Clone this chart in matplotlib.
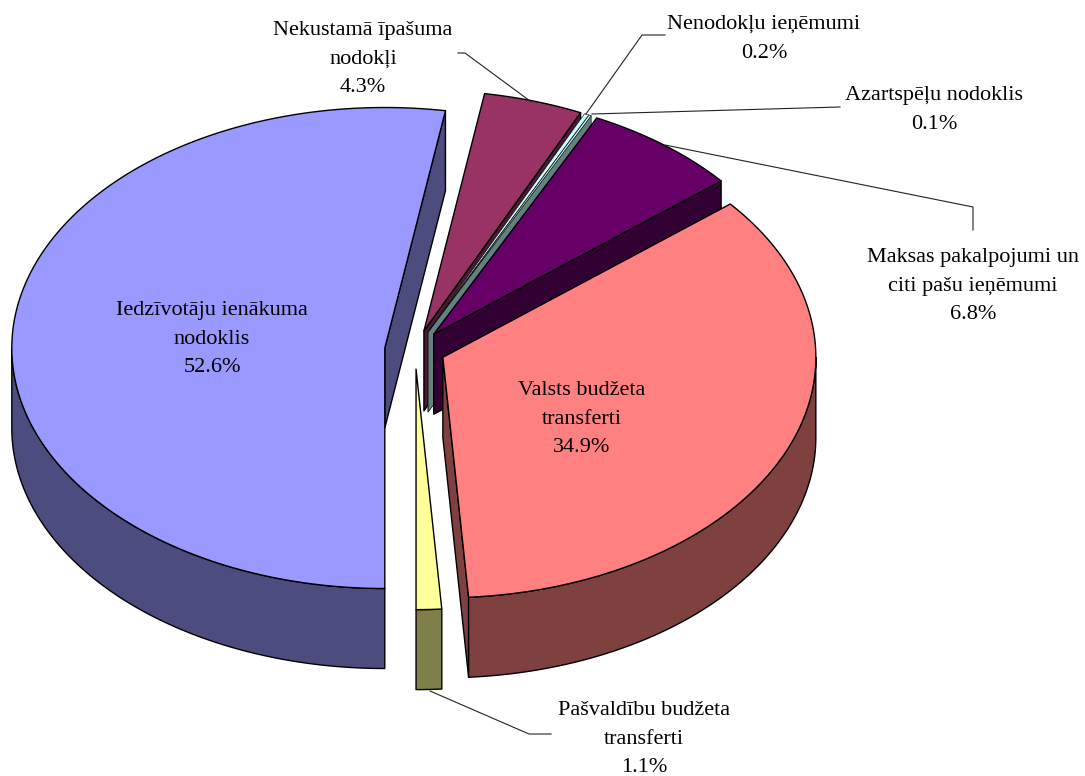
import numpy as np
import matplotlib
matplotlib.use("Agg")
import matplotlib.pyplot as plt

labels = ["Iedzīvotāju ienākuma\nnodoklis", "Nekustamā īpašuma\nnodokļi", "Nenodokļu ieņēmumi",
          "Azartspēļu nodoklis", "Maksas pakalpojumi un\nciti pašu ieņēmumi",
          "Valsts budžeta\ntransferti", "Pašvaldību budžeta\ntransferti"]
shares = [52.6, 4.3, 0.2, 0.1, 6.8, 34.9, 1.1]
colors = ["#9999FF", "#993366", "#CCFFFF", "#CCFFFF", "#660066", "#FF8080", "#FFFF99"]
side_colors = ["#4C4C7F", "#4C1933", "#667F7F", "#667F7F", "#330033", "#7F4040", "#7F7F4C"]

# label centres and leader lines, in pixels
label_pos = [(212, 339), (363, 59), (764, 39), (934, 110), (973, 286), (582, 419), (644, 739)]
leaders = [None, [(530, 101), (465, 53), (458, 53)], [(586, 114), (642, 35), (665, 35)],
           [(592, 114), (840, 107)], [(665, 145), (973, 207), (973, 230)], None,
           [(430, 691), (529, 734), (551, 734)]]

# pie geometry, in pixels
cx, cy = 415, 349.6
rx, ry = 373, 240.5
depth = 80
explode = 30.3
start = 180.0

fig = plt.figure(figsize=(10.85, 7.76), dpi=100)
ax = fig.add_axes([0, 0, 1, 1])
ax.set_xlim(0, 1085)
ax.set_ylim(776, 0)
ax.axis("off")


def arc(x0, y0, a1, a2):
    # angles are clockwise from north
    t = np.radians(np.linspace(a1, a2, max(int(abs(a2 - a1)) * 2, 2)))
    return x0 + rx * np.sin(t), y0 - ry * np.cos(t)


def poly(xs, ys, color, z, lw):
    ax.fill(xs, ys, facecolor=color, edgecolor="black", linewidth=lw, joinstyle="round", zorder=z)


ends = start + np.cumsum(shares) * 3.6
starts = ends - np.array(shares) * 3.6

# back slices first, the front ones paint over them
order = [1, 2, 3, 4, 0, 5, 6]
for z, i in enumerate(order):
    a1, a2 = starts[i], ends[i]
    mid = np.radians((a1 + a2) / 2)
    x0 = cx + explode * np.sin(mid)
    y0 = cy - explode * ry / rx * np.cos(mid)
    base = z * 10
    # the hairline slices would be all outline otherwise
    lw = 0.4 if shares[i] < 1 else 1.0

    # radial walls, only when they face the viewer
    for a, sign in ((a1, -1), (a2, 1)):
        if sign * np.sin(np.radians(a)) > 1e-6:
            ex, ey = arc(x0, y0, a, a)
            ex, ey = ex[0], ey[0]
            poly([x0, ex, ex, x0], [y0, ey, ey + depth, y0 + depth], side_colors[i], base + 1, lw)

    # outer wall on the near half of the rim
    for k in (0, 360):
        lo, hi = max(a1, 90 + k), min(a2, 270 + k)
        if hi > lo:
            xs, ys = arc(x0, y0, lo, hi)
            poly(np.r_[xs, xs[::-1]], np.r_[ys, ys[::-1] + depth], side_colors[i], base + 2, lw)

    xs, ys = arc(x0, y0, a1, a2)
    poly(np.r_[x0, xs], np.r_[y0, ys], colors[i], base + 3, lw)

for i in range(len(labels)):
    if leaders[i]:
        pts = np.array(leaders[i])
        ax.plot(pts[:, 0], pts[:, 1], color="#222222", linewidth=0.8, zorder=200)
    ax.text(label_pos[i][0], label_pos[i][1], labels[i] + "\n%.1f%%" % shares[i],
            ha="center", va="center", ma="center", family="Liberation Serif",
            fontsize=16, linespacing=1.7, color="black", zorder=201)

plt.savefig("out.png", dpi=100)
plt.close()
